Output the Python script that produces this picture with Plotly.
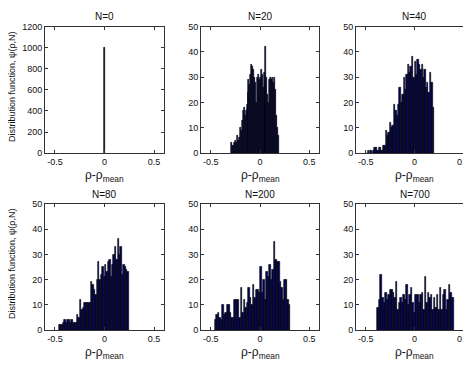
import numpy as np
import plotly.graph_objects as go

titles = ["N=0", "N=20", "N=40", "N=80", "N=200", "N=700"]

# histogram counts (50 bins each) and bin ranges [lo, hi]
counts_n0 = [1000]
range_n0 = [-0.0025, 0.0025]

counts_n20 = [4, 3, 3, 4, 5, 4, 7, 5, 6, 10, 9, 13, 17, 18, 15, 17, 19, 24, 29, 27,
              31, 35, 34, 33, 30, 28, 20, 30, 31, 29, 30, 33, 31, 26, 32, 28, 42, 30, 23, 20,
              29, 30, 29, 30, 28, 30, 25, 15, 10, 7]
range_n20 = [-0.29, 0.19]

counts_n40 = [0, 0, 1, 0, 1, 0, 1, 2, 2, 1, 2, 2, 1, 3, 3, 9, 7, 8, 12, 10,
              11, 19, 17, 15, 19, 26, 20, 23, 30, 25, 31, 35, 32, 34, 38, 30, 36, 31, 37, 35,
              33, 35, 30, 33, 26, 28, 24, 32, 28, 18]
range_n40 = [-0.51, 0.2]

counts_n80 = [2, 2, 2, 3, 4, 3, 4, 4, 3, 4, 3, 3, 3, 6, 5, 12, 8, 9, 11, 11,
              11, 11, 11, 19, 18, 16, 14, 20, 27, 20, 22, 25, 21, 26, 23, 27, 28, 21, 26, 30,
              33, 28, 36, 30, 33, 22, 26, 25, 24, 23]
range_n80 = [-0.46, 0.245]

counts_n200 = [4, 6, 7, 5, 4, 10, 6, 7, 10, 10, 7, 5, 5, 12, 12, 12, 5, 17, 7, 12,
               9, 11, 17, 13, 10, 18, 13, 16, 16, 15, 25, 15, 20, 12, 23, 21, 26, 20, 24, 35,
               28, 27, 27, 19, 17, 12, 20, 20, 12, 10]
range_n200 = [-0.46, 0.31]

counts_n700 = [9, 12, 22, 13, 11, 15, 12, 14, 16, 16, 15, 13, 19, 8, 11, 13, 11, 14, 12, 18,
               10, 14, 17, 11, 7, 14, 14, 11, 14, 15, 8, 21, 11, 15, 13, 14, 8, 13, 9, 14,
               8, 17, 8, 14, 16, 8, 12, 18, 15, 13]
range_n700 = [-0.38, 0.40]

all_counts = [counts_n0, counts_n20, counts_n40, counts_n80, counts_n200, counts_n700]
all_ranges = [range_n0, range_n20, range_n40, range_n80, range_n200, range_n700]

x_ticks = [-0.5, 0, 0.5]
y_ticks_n0 = [0, 200, 400, 600, 800, 1000, 1200]
y_ticks = [0, 10, 20, 30, 40, 50]

W, H = 471, 373
OFF = 8  # page body margin offset
col_px = [(45 - OFF, 164 - OFF), (201 - OFF, 319 - OFF), (356 - OFF, 473 - OFF)]
row_px = [(22 - OFF, 152 - OFF), (204 - OFF, 334 - OFF)]

fig = go.Figure()
layout = dict(width=W, height=H, margin=dict(l=0, r=0, t=0, b=0),
              paper_bgcolor="white", plot_bgcolor="white", showlegend=False,
              bargap=0, font=dict(family="Liberation Sans, Arial", size=9, color="#111"))
annotations = []

for i in range(6):
    r, c = divmod(i, 3)
    cnt = all_counts[i]
    lo, hi = all_ranges[i]
    n = len(cnt)
    w = (hi - lo) / n
    centers = lo + w * (np.arange(n) + 0.5)
    ax = "" if i == 0 else str(i + 1)
    fig.add_trace(go.Bar(x=centers, y=cnt, width=w if i > 0 else 0.004,
                         marker=dict(color="#00005c" if i > 0 else "#000000",
                                     line=dict(color="#000000", width=0.6)),
                         xaxis="x" + ax, yaxis="y" + ax))
    x0, x1 = col_px[c]
    y0, y1 = row_px[r]
    layout["xaxis" + ax] = dict(domain=[x0 / W, min(x1 / W, 1.0)], anchor="y" + ax,
                                range=[-0.6, 0.6],
                                tickvals=x_ticks, ticktext=["-0.5", "0", "0.5"],
                                showline=True, linecolor="#333", linewidth=1,
                                mirror="ticks", ticks="inside", ticklen=3, tickcolor="#333",
                                showgrid=False, zeroline=False, fixedrange=True,
                                tickfont=dict(size=9))
    yt = y_ticks_n0 if i == 0 else y_ticks
    layout["yaxis" + ax] = dict(domain=[1 - y1 / H, 1 - y0 / H], anchor="x" + ax,
                                range=[0, yt[-1]], tickvals=yt,
                                showline=True, linecolor="#333", linewidth=1,
                                mirror="ticks", ticks="inside",
                                ticklen=3, tickcolor="#333",
                                showgrid=False, zeroline=False, fixedrange=True,
                                tickfont=dict(size=9))
    xc = (x0 + x1) / 2 / W
    annotations.append(dict(text=titles[i], x=xc, y=1 - (y0 - 10) / H, xref="paper", yref="paper",
                            showarrow=False, font=dict(size=10), xanchor="center", yanchor="middle"))
    annotations.append(dict(text="ρ-ρ<sub>mean</sub>", x=xc, y=1 - (y1 + 23) / H,
                            xref="paper", yref="paper", showarrow=False,
                            font=dict(size=12), xanchor="center", yanchor="middle"))
    if c == 0:
        annotations.append(dict(text="Distribution function, ψ(ρ,N)", x=(12 - OFF) / W,
                                y=1 - ((y0 + y1) / 2 - 3) / H, xref="paper", yref="paper",
                                showarrow=False, textangle=-90, font=dict(size=9),
                                xanchor="center", yanchor="middle"))

layout["annotations"] = annotations
fig.update_layout(**layout)
fig.write_html("out.html")
